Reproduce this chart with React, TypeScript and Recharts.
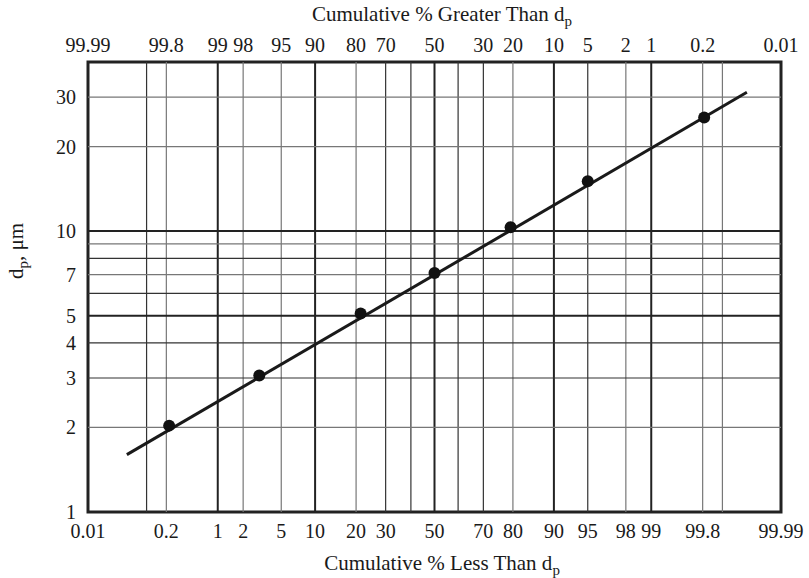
import {
  ComposedChart,
  Line,
  Scatter,
  XAxis,
  YAxis,
  ReferenceLine,
  ReferenceArea,
} from 'recharts'

// cumulative % less than d_p (bottom axis) and the particle size
const measuredPercent = [0.22, 3, 21.4, 50, 79.3, 95, 99.81]
const measuredSize = [2.03, 3.06, 5.09, 7.1, 10.33, 15.05, 25.4]

// end points of the fitted straight line
const fitPercent = [0.048, 99.96]
const fitSize = [1.6, 31.2]

const lessTicks = [0.01, 0.2, 1, 2, 5, 10, 20, 30, 50, 70, 80, 90, 95, 98, 99, 99.8, 99.99]
const greaterTicks = [99.99, 99.8, 99, 98, 95, 90, 80, 70, 50, 30, 20, 10, 5, 2, 1, 0.2, 0.01]
const sizeTicks = [1, 2, 3, 4, 5, 7, 10, 20, 30]

const gridPercents = [0.1, 0.2, 1, 2, 5, 10, 20, 30, 40, 50, 60, 70, 80, 90, 95, 98, 99, 99.8, 99.9]
const gridSizes = [2, 3, 4, 5, 6, 7, 8, 9, 10, 20, 30]
const majorPercents = [1, 10, 50, 90, 99]
const lightPercents = [0.2, 2, 5, 20, 80, 98, 99.8, 99.9]
const majorSizes = [5, 10]
const lightSizes = [2, 7, 9, 20, 30]

// inverse normal CDF (Acklam) -> probability paper scale
function probit(p: number) {
  const a = [-39.69683028665376, 220.9460984245205, -275.9285104469687, 138.357751867269, -30.66479806614716, 2.506628277459239]
  const b = [-54.47609879822406, 161.5858368580409, -155.6989798598866, 66.80131188771972, -13.28068155288572]
  const c = [-0.007784894002430293, -0.3223964580411365, -2.400758277161838, -2.549671071539290, 4.374664141464968, 2.938163982698783]
  const d = [0.007784695709041462, 0.3224671290700398, 2.445134137142996, 3.754408661907416]
  const plow = 0.02425
  if (p < plow) {
    const q = Math.sqrt(-2 * Math.log(p))
    return (((((c[0] * q + c[1]) * q + c[2]) * q + c[3]) * q + c[4]) * q + c[5]) / ((((d[0] * q + d[1]) * q + d[2]) * q + d[3]) * q + 1)
  }
  if (p <= 1 - plow) {
    const q = p - 0.5
    const r = q * q
    return ((((((a[0] * r + a[1]) * r + a[2]) * r + a[3]) * r + a[4]) * r + a[5]) * q) / (((((b[0] * r + b[1]) * r + b[2]) * r + b[3]) * r + b[4]) * r + 1)
  }
  const q = Math.sqrt(-2 * Math.log(1 - p))
  return -(((((c[0] * q + c[1]) * q + c[2]) * q + c[3]) * q + c[4]) * q + c[5]) / ((((d[0] * q + d[1]) * q + d[2]) * q + d[3]) * q + 1)
}

const zOf = (pct: number) => probit(pct / 100)
const Z_MAX = -zOf(0.01) + 1e-9
const Z_MIN = -Z_MAX

const points = measuredPercent.map((p, i) => ({ z: zOf(p), d: measuredSize[i] }))
const fit = fitPercent.map((p, i) => ({ z: zOf(p), d: fitSize[i] }))
const bottomTickZ = lessTicks.map(zOf)
const topTickZ = greaterTicks.map((g) => zOf(100 - g))

const nearestLabel = (zs: number[], labels: number[], v: number) => {
  let best = 0
  zs.forEach((z, i) => {
    if (Math.abs(z - v) < Math.abs(zs[best] - v)) best = i
  })
  return String(labels[best])
}

const FONT = '"Liberation Serif", "Times New Roman", serif'

function BottomTick(props: any) {
  return (
    <text x={props.x} y={props.y} dy={14} textAnchor="middle" fontFamily={FONT} fontSize={20} fill="#1a1a1a">
      {nearestLabel(bottomTickZ, lessTicks, props.payload.value)}
    </text>
  )
}

function TopTick(props: any) {
  return (
    <text x={props.x} y={props.y} textAnchor="middle" fontFamily={FONT} fontSize={20} fill="#1a1a1a">
      {nearestLabel(topTickZ, greaterTicks, props.payload.value)}
    </text>
  )
}

function LeftTick(props: any) {
  return (
    <text x={props.x} y={props.y} dy={7} textAnchor="end" fontFamily={FONT} fontSize={20} fill="#1a1a1a">
      {props.payload.value}
    </text>
  )
}

function Dot(props: any) {
  return <circle cx={props.cx} cy={props.cy} r={6} fill="#111" />
}

function BottomTitle() {
  return (
    <text x={442} y={570} textAnchor="middle" fontFamily={FONT} fontSize={21} fill="#1a1a1a">
      Cumulative % Less Than d
      <tspan fontSize={15} dy={5}>p</tspan>
    </text>
  )
}

function TopTitle() {
  return (
    <text x={442} y={21} textAnchor="middle" fontFamily={FONT} fontSize={21} fill="#1a1a1a">
      Cumulative % Greater Than d
      <tspan fontSize={15} dy={5}>p</tspan>
    </text>
  )
}

function SideTitle() {
  return (
    <text
      x={23}
      y={251}
      transform="rotate(-90, 23, 251)"
      textAnchor="middle"
      fontFamily={FONT}
      fontSize={21}
      fill="#1a1a1a"
    >
      d
      <tspan fontSize={15} dy={5}>p</tspan>
      <tspan dy={-5}>, μm</tspan>
    </text>
  )
}

export default function App() {
  return (
    <div
      style={{
        position: 'absolute',
        left: 0,
        top: 0,
        width: 809,
        height: 578,
        background: '#fff',
        fontFamily: FONT,
      }}
    >
      <ComposedChart width={809} height={578} margin={{ top: 32, right: 28, bottom: 36, left: 28 }}>
        {gridPercents.map((p) => (
          <ReferenceLine
            key={'v' + p}
            x={zOf(p)}
            stroke={majorPercents.includes(p) ? '#222' : lightPercents.includes(p) ? '#777' : '#333'}
            strokeWidth={majorPercents.includes(p) ? 2 : 1.2}
          />
        ))}
        {gridSizes.map((s) => (
          <ReferenceLine
            key={'h' + s}
            y={s}
            stroke={majorSizes.includes(s) ? '#222' : lightSizes.includes(s) ? '#777' : '#333'}
            strokeWidth={majorSizes.includes(s) ? 2 : 1.2}
          />
        ))}
        <XAxis
          dataKey="z"
          type="number"
          domain={[Z_MIN, Z_MAX]}
          ticks={bottomTickZ}
          interval={0}
          tick={<BottomTick />}
          tickLine={false}
          axisLine={false}
          tickSize={0}
          tickMargin={12}
          height={30}
          label={<BottomTitle />}
        />
        <XAxis
          xAxisId="top"
          orientation="top"
          dataKey="z"
          type="number"
          domain={[Z_MIN, Z_MAX]}
          ticks={topTickZ}
          interval={0}
          tick={<TopTick />}
          tickLine={false}
          axisLine={false}
          tickSize={0}
          tickMargin={10}
          height={30}
          label={<TopTitle />}
        />
        <YAxis
          dataKey="d"
          type="number"
          scale="log"
          domain={[1, 40]}
          allowDataOverflow
          ticks={sizeTicks}
          interval={0}
          tick={<LeftTick />}
          tickLine={false}
          axisLine={false}
          tickSize={0}
          tickMargin={12}
          width={60}
          label={<SideTitle />}
        />
        <Line
          data={fit}
          dataKey="d"
          stroke="#1a1a1a"
          strokeWidth={3}
          dot={false}
          isAnimationActive={false}
        />
        <Line
          xAxisId="top"
          data={fit}
          dataKey="d"
          stroke="none"
          dot={false}
          isAnimationActive={false}
        />
        <Scatter data={points} shape={<Dot />} isAnimationActive={false} />
        <ReferenceArea
          x1={Z_MIN}
          x2={Z_MAX}
          y1={1}
          y2={40}
          fill="none"
          stroke="#222"
          strokeWidth={3}
        />
      </ComposedChart>
    </div>
  )
}
